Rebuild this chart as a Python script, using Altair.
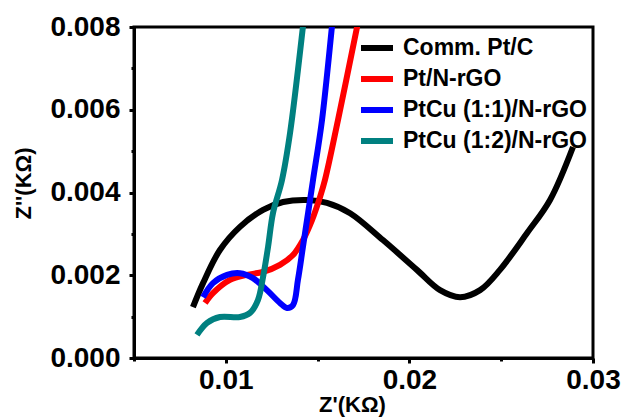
import altair as alt
import pandas as pd

series_names = ["Comm. Pt/C", "Pt/N-rGO", "PtCu (1:1)/N-rGO", "PtCu (1:2)/N-rGO"]
series_colors = ["#000000", "#ff0000", "#0000ff", "#008080"]

black_x = [0.00821, 0.00876, 0.00968, 0.01077, 0.01203, 0.01312, 0.01442, 0.01551,
           0.01677, 0.01856, 0.02041, 0.02167, 0.02276, 0.02385, 0.02493, 0.02641,
           0.02766, 0.02891]
black_y = [0.00123, 0.00181, 0.00261, 0.00317, 0.00358, 0.00377, 0.00382, 0.00375,
           0.00350, 0.00285, 0.00213, 0.00164, 0.00147, 0.00164, 0.00213, 0.00302,
           0.00382, 0.00510]

red_x = [0.00887, 0.00930, 0.01023, 0.01115, 0.01203, 0.01295, 0.01366, 0.01420,
         0.01470, 0.01513, 0.01540, 0.01611, 0.01715, 0.01726]
red_y = [0.00133, 0.00157, 0.00189, 0.00201, 0.00208, 0.00225, 0.00249, 0.00285,
         0.00334, 0.00389, 0.00430, 0.00575, 0.00800, 0.00824]

blue_x = [0.00876, 0.00930, 0.01007, 0.01077, 0.01148, 0.01224, 0.01295, 0.01333,
          0.01366, 0.01393, 0.01420, 0.01448, 0.01475, 0.01524, 0.01578, 0.01584]
blue_y = [0.00147, 0.00181, 0.00201, 0.00205, 0.00193, 0.00164, 0.00133, 0.00121,
          0.00128, 0.00189, 0.00268, 0.00350, 0.00430, 0.00575, 0.00800, 0.00824]

teal_x = [0.00843, 0.00898, 0.00968, 0.01077, 0.01132, 0.01175, 0.01203, 0.01230,
          0.01257, 0.01306, 0.01350, 0.01420, 0.01426]
teal_y = [0.00056, 0.00085, 0.00099, 0.00099, 0.00109, 0.00140, 0.00196, 0.00268,
          0.00350, 0.00430, 0.00544, 0.00800, 0.00824]

x_ticks = [0.005, 0.01, 0.015, 0.02, 0.025, 0.03]
y_ticks = [0.0, 0.001, 0.002, 0.003, 0.004, 0.005, 0.006, 0.007, 0.008]

rows = []
for name, xs, ys in zip(series_names,
                        [black_x, red_x, blue_x, teal_x],
                        [black_y, red_y, blue_y, teal_y]):
    for i, (a, b) in enumerate(zip(xs, ys)):
        rows.append({"series": name, "zr": a, "zi": b, "idx": i})
df = pd.DataFrame(rows)

FONT = "Liberation Sans"

chart = alt.Chart(df).mark_line(
    strokeWidth=6, interpolate="catmull-rom", clip=True
).encode(
    x=alt.X("zr:Q",
            scale=alt.Scale(domain=[0.005, 0.03], nice=False, zero=False),
            axis=alt.Axis(
                title="Z'(KΩ)", values=x_ticks, grid=False,
                labelExpr="(abs(datum.value-0.01)<1e-6||abs(datum.value-0.02)<1e-6||abs(datum.value-0.03)<1e-6) ? format(datum.value, '.2f') : ''",
                tickSize={"condition": {"test": "abs(datum.value*100 - round(datum.value*100)) < 1e-4", "value": 5}, "value": 3},
                titleX=218, titleY=53, titleBaseline="alphabetic",
                titleAnchor="start", titleAlign="center",
            )),
    y=alt.Y("zi:Q",
            scale=alt.Scale(domain=[0, 0.008], nice=False, zero=False),
            axis=alt.Axis(
                title="Z''(KΩ)", values=y_ticks, grid=False,
                labelExpr="abs(datum.value*500 - round(datum.value*500)) < 1e-4 ? format(datum.value, '.3f') : ''",
                tickSize={"condition": {"test": "abs(datum.value*500 - round(datum.value*500)) < 1e-4", "value": 5}, "value": 3},
                titleX=-104, titleY=156, titleBaseline="alphabetic",
                titleAlign="center", titleAngle=270,
            )),
    color=alt.Color("series:N",
                    scale=alt.Scale(domain=series_names, range=series_colors),
                    sort=series_names,
                    legend=alt.Legend(
                        title=None, orient="none", legendX=224, legendY=2,
                        symbolType="stroke", symbolSize=1024, symbolStrokeWidth=6,
                        labelFontSize=23, labelFont=FONT, labelFontWeight="bold",
                        labelColor="#000000", labelOffset=7, labelLimit=400,
                        rowPadding=-3, padding=0,
                    )),
    order=alt.Order("idx:Q"),
).properties(
    width=459, height=331,
    autosize=alt.AutoSizeParams(type="none"),
    padding={"left": 134, "top": 27, "right": 33, "bottom": 59},
).configure_view(
    stroke="#000000", strokeWidth=3
).configure_axis(
    domainColor="#000000", domainWidth=3, tickColor="#000000", tickWidth=3,
    labelFont=FONT, labelFontWeight="bold", labelFontSize=28, labelColor="#000000",
    labelPadding=3, titleFont=FONT, titleFontWeight="bold", titleFontSize=22,
    titleColor="#000000", labelBound=False, labelOverlap=False, labelFlush=False,
).configure_axisY(labelPadding=9)

chart.save("out.html", embed_options={"renderer": "svg", "actions": False})
